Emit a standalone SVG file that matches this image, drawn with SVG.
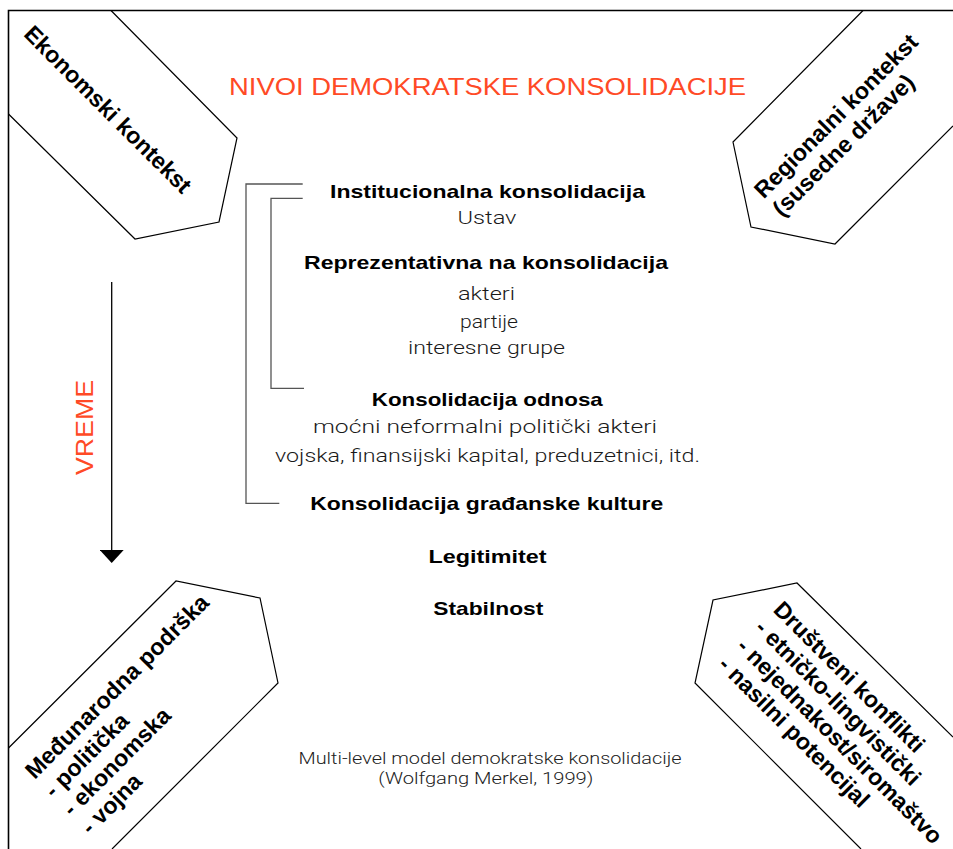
<svg xmlns="http://www.w3.org/2000/svg" width="953" height="849" viewBox="0 0 953 849">
  <style>
    .frame { fill: none; stroke: #000; stroke-width: 1.6; }
    .shape { fill: none; stroke: #000; stroke-width: 1.2; stroke-linejoin: miter; }
    .brk { fill: none; stroke: #555; stroke-width: 1.3; }
    .arrow { fill: none; stroke: #000; stroke-width: 1.3; }
    .corner { font-family: "Liberation Sans", Arial, sans-serif; font-weight: bold; font-size: 23.2px; fill: #000; }
    .title { font-family: "Liberation Sans", Arial, sans-serif; font-size: 23px; fill: #ff4a26; }
    .bold { font-family: "Liberation Sans", Arial, sans-serif; font-weight: bold; font-size: 18.5px; fill: #000; text-anchor: middle; }
    .reg { font-family: Roboto, "Liberation Sans", Arial, sans-serif; font-weight: 300; font-size: 17.6px; fill: #1a1a1a; text-anchor: middle; }
    .foot { font-family: Roboto, "Liberation Sans", Arial, sans-serif; font-weight: 300; font-size: 17px; fill: #222; text-anchor: middle; }
  </style>
  <defs>
    <marker id="head" viewBox="0 0 13 24" refX="0" refY="12" markerWidth="13" markerHeight="24" markerUnits="userSpaceOnUse" orient="auto">
      <polygon points="0,0 13,12 0,24" fill="#000"/>
    </marker>
  </defs>
  <rect width="953" height="849" fill="#fff"/>
  <path class="frame" d="M8.5,849 V10.5 H953"/>

  <text id="title" class="title" x="487.5" y="95" text-anchor="middle" textLength="517" lengthAdjust="spacingAndGlyphs">NIVOI DEMOKRATSKE KONSOLIDACIJE</text>

  <g id="ekonomski-kontekst">
    <polyline class="shape" points="111,10.5 237,138 219,222 135,239 8.5,114"/>
    <text class="corner" transform="rotate(45)" x="41" y="9">Ekonomski kontekst</text>
  </g>

  <g id="regionalni-kontekst">
    <polyline class="shape" points="863,10.5 733,142 751,227 835,244 953,126"/>
    <text class="corner" transform="rotate(-45)">
      <tspan x="399" y="681">Regionalni kontekst</tspan>
      <tspan x="399" y="707">(susedne države)</tspan>
    </text>
  </g>

  <g id="medjunarodna-podrska">
    <polyline class="shape" points="8.5,748 176,581 260,598 278,683 112,849"/>
    <text class="corner" transform="rotate(-45)">
      <tspan x="-527" y="576">Međunarodna podrška</tspan>
      <tspan x="-527" y="603">- politička</tspan>
      <tspan x="-527" y="629">- ekonomska</tspan>
      <tspan x="-527" y="655">- vojna</tspan>
    </text>
  </g>

  <g id="drustveni-konflikti">
    <polyline class="shape" points="953,737 797,583 713,600 695,683 861,849"/>
    <text class="corner" transform="rotate(45)">
      <tspan x="978" y="-114">Društveni konflikti</tspan>
      <tspan x="978" y="-88">- etničko-lingvistički</tspan>
      <tspan x="978" y="-62">- nejednakost/siromaštvo</tspan>
      <tspan x="978" y="-36">- nasilni potencijal</tspan>
    </text>
  </g>

  <g id="vreme">
    <text class="title" transform="translate(93.3,427.5) rotate(-90)" x="0" y="0" text-anchor="middle" font-size="23.3" textLength="95" lengthAdjust="spacingAndGlyphs">VREME</text>
  </g>

  <g id="institucionalna">
    <text class="bold" x="487.5" y="198" textLength="315" lengthAdjust="spacingAndGlyphs">Institucionalna konsolidacija</text>
    <text class="reg" x="487" y="224" textLength="59" lengthAdjust="spacingAndGlyphs">Ustav</text>
  </g>
  <g id="reprezentativna">
    <text class="bold" x="486" y="269" textLength="364" lengthAdjust="spacingAndGlyphs">Reprezentativna na konsolidacija</text>
    <text class="reg" x="486.5" y="300" textLength="57" lengthAdjust="spacingAndGlyphs">akteri</text>
    <text class="reg" x="489" y="328" textLength="58" lengthAdjust="spacingAndGlyphs">partije</text>
    <text class="reg" x="486.5" y="354" textLength="157" lengthAdjust="spacingAndGlyphs">interesne grupe</text>
  </g>
  <g id="odnosa">
    <text class="bold" x="487.3" y="406" textLength="231" lengthAdjust="spacingAndGlyphs">Konsolidacija odnosa</text>
    <text class="reg" x="485" y="433" textLength="344" lengthAdjust="spacingAndGlyphs">moćni neformalni politički akteri</text>
    <text class="reg" x="487.5" y="461.5" textLength="425" lengthAdjust="spacingAndGlyphs">vojska, finansijski kapital, preduzetnici, itd.</text>
  </g>
  <g id="gradjanske-kulture">
    <text class="bold" x="486.7" y="510" textLength="353" lengthAdjust="spacingAndGlyphs">Konsolidacija građanske kulture</text>
  </g>
  <g id="legitimitet">
    <text class="bold" x="487.5" y="563" textLength="118" lengthAdjust="spacingAndGlyphs">Legitimitet</text>
  </g>
  <g id="stabilnost">
    <text class="bold" x="488.3" y="615" textLength="110" lengthAdjust="spacingAndGlyphs">Stabilnost</text>
  </g>
  <g id="caption">
    <text class="foot" x="490" y="764" textLength="383" lengthAdjust="spacingAndGlyphs">Multi-level model demokratske konsolidacije</text>
    <text class="foot" x="485.8" y="784" textLength="215" lengthAdjust="spacingAndGlyphs">(Wolfgang Merkel, 1999)</text>
  </g>

  <g id="connectors">
    <path class="brk" d="M302.7,184 H246 V503.3 H279.3"/>
    <path class="brk" d="M302.7,198.3 H271 V388.3 H304"/>
    <line class="arrow" x1="111.7" y1="282" x2="111.7" y2="550" marker-end="url(#head)"/>
  </g>
</svg>
